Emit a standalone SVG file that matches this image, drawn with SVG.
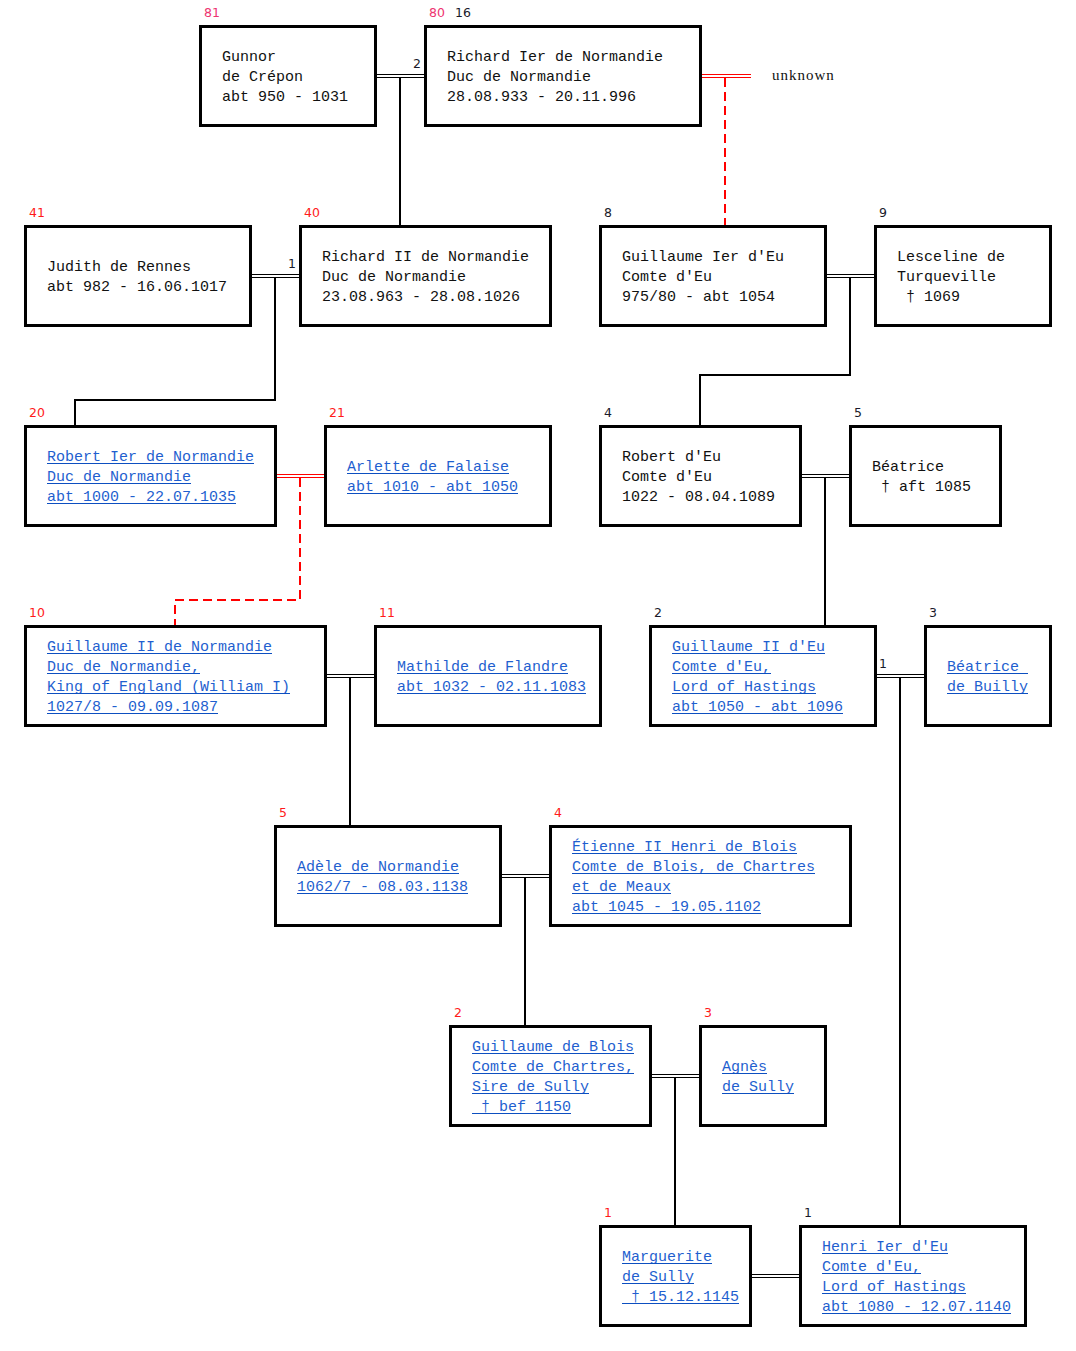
<svg xmlns="http://www.w3.org/2000/svg" width="1076" height="1351" viewBox="0 0 1076 1351">
<style>
.box{fill:#fff;stroke:#000;stroke-width:3}
.t{font-family:"Liberation Mono","Courier New",monospace;font-size:15px;fill:#111;white-space:pre}
.l{fill:#1f5fcf}
.u{stroke:#0d4fc0;stroke-width:1}
.n{font-family:"DejaVu Sans",Verdana,sans-serif;font-size:12.5px}
.nr{fill:#ff1a1a}
.np{fill:#ee3370}
.nk{fill:#1a1a2a}
.c{fill:none;stroke:#000;stroke-width:2}
.m{fill:none;stroke:#000;stroke-width:1}
.mr{fill:none;stroke:#ff0000;stroke-width:1}
.d{fill:none;stroke:#ff0000;stroke-width:2;stroke-dasharray:9 5}
.unk{font-family:"Liberation Serif","Times New Roman",serif;font-size:15px;letter-spacing:1px;fill:#111}
</style>
<rect width="1076" height="1351" fill="#fff"/>
<g id="connectors">
  <path class="m" d="M376 74.5H425M376 77.5H425"/>
  <path class="c" d="M400 78V225"/>
  <text class="n nk" x="413" y="68">2</text>
  <path class="mr" d="M701 74.5H751M701 77.5H751"/>
  <path class="d" d="M725 78V225"/>
  <text class="unk" x="772" y="80">unknown</text>
  <path class="m" d="M251 274.5H300M251 277.5H300"/>
  <path class="c" d="M275 278V400H75V425"/>
  <text class="n nk" x="288" y="268">1</text>
  <path class="m" d="M826 274.5H875M826 277.5H875"/>
  <path class="c" d="M850 278V375H700V425"/>
  <path class="mr" d="M276 474.5H325M276 477.5H325"/>
  <path class="d" d="M300 478V600H175V625"/>
  <path class="m" d="M801 474.5H850M801 477.5H850"/>
  <path class="c" d="M825 478V625"/>
  <path class="m" d="M326 674.5H375M326 677.5H375"/>
  <path class="c" d="M350 678V825"/>
  <path class="m" d="M876 674.5H925M876 677.5H925"/>
  <path class="c" d="M900 678V1225"/>
  <text class="n nk" x="879" y="668">1</text>
  <path class="m" d="M501 874.5H550M501 877.5H550"/>
  <path class="c" d="M525 878V1025"/>
  <path class="m" d="M651 1074.5H700M651 1077.5H700"/>
  <path class="c" d="M675 1078V1225"/>
  <path class="m" d="M751 1274.5H800M751 1277.5H800"/>
</g>

<g id="gunnor">
  <text class="n np" x="204" y="17">81</text>
  <rect class="box" x="200.5" y="26.5" width="175" height="99"/>
  <text class="t" x="222" y="60.5">Gunnor</text>
  <text class="t" x="222" y="80.5">de Crépon</text>
  <text class="t" x="222" y="100.5">abt 950 - 1031</text>
</g>
<g id="richard1">
  <text class="n np" x="429" y="17">80</text>
  <text class="n nk" x="455" y="17">16</text>
  <rect class="box" x="425.5" y="26.5" width="275" height="99"/>
  <text class="t" x="447" y="60.5">Richard Ier de Normandie</text>
  <text class="t" x="447" y="80.5">Duc de Normandie</text>
  <text class="t" x="447" y="100.5">28.08.933 - 20.11.996</text>
</g>

<g id="judith">
  <text class="n nr" x="29" y="217">41</text>
  <rect class="box" x="25.5" y="226.5" width="225" height="99"/>
  <text class="t" x="47" y="270.5">Judith de Rennes</text>
  <text class="t" x="47" y="290.5">abt 982 - 16.06.1017</text>
</g>
<g id="richard2">
  <text class="n nr" x="304" y="217">40</text>
  <rect class="box" x="300.5" y="226.5" width="250" height="99"/>
  <text class="t" x="322" y="260.5">Richard II de Normandie</text>
  <text class="t" x="322" y="280.5">Duc de Normandie</text>
  <text class="t" x="322" y="300.5">23.08.963 - 28.08.1026</text>
</g>
<g id="guillaume1eu">
  <text class="n nk" x="604" y="217">8</text>
  <rect class="box" x="600.5" y="226.5" width="225" height="99"/>
  <text class="t" x="622" y="260.5">Guillaume Ier d'Eu</text>
  <text class="t" x="622" y="280.5">Comte d'Eu</text>
  <text class="t" x="622" y="300.5">975/80 - abt 1054</text>
</g>
<g id="lesceline">
  <text class="n nk" x="879" y="217">9</text>
  <rect class="box" x="875.5" y="226.5" width="175" height="99"/>
  <text class="t" x="897" y="260.5">Lesceline de</text>
  <text class="t" x="897" y="280.5">Turqueville</text>
  <text class="t" x="897" y="300.5"> † 1069</text>
</g>

<g id="robert1">
  <text class="n nr" x="29" y="417">20</text>
  <rect class="box" x="25.5" y="426.5" width="250" height="99"/>
  <text class="t l" x="47" y="460.5">Robert Ier de Normandie</text>
  <text class="t l" x="47" y="480.5">Duc de Normandie</text>
  <text class="t l" x="47" y="500.5">abt 1000 - 22.07.1035</text>
  <path class="u" d="M47 463.5h207M47 483.5h144M47 503.5h189"/>
</g>
<g id="arlette">
  <text class="n nr" x="329" y="417">21</text>
  <rect class="box" x="325.5" y="426.5" width="225" height="99"/>
  <text class="t l" x="347" y="470.5">Arlette de Falaise</text>
  <text class="t l" x="347" y="490.5">abt 1010 - abt 1050</text>
  <path class="u" d="M347 473.5h162M347 493.5h171"/>
</g>
<g id="roberteu">
  <text class="n nk" x="604" y="417">4</text>
  <rect class="box" x="600.5" y="426.5" width="200" height="99"/>
  <text class="t" x="622" y="460.5">Robert d'Eu</text>
  <text class="t" x="622" y="480.5">Comte d'Eu</text>
  <text class="t" x="622" y="500.5">1022 - 08.04.1089</text>
</g>
<g id="beatrice">
  <text class="n nk" x="854" y="417">5</text>
  <rect class="box" x="850.5" y="426.5" width="150" height="99"/>
  <text class="t" x="872" y="470.5">Béatrice</text>
  <text class="t" x="872" y="490.5"> † aft 1085</text>
</g>

<g id="guillaume2n">
  <text class="n nr" x="29" y="617">10</text>
  <rect class="box" x="25.5" y="626.5" width="300" height="99"/>
  <text class="t l" x="47" y="650.5">Guillaume II de Normandie</text>
  <text class="t l" x="47" y="670.5">Duc de Normandie,</text>
  <text class="t l" x="47" y="690.5">King of England (William I)</text>
  <text class="t l" x="47" y="710.5">1027/8 - 09.09.1087</text>
  <path class="u" d="M47 653.5h225M47 673.5h153M47 693.5h243M47 713.5h171"/>
</g>
<g id="mathilde">
  <text class="n nr" x="379" y="617">11</text>
  <rect class="box" x="375.5" y="626.5" width="225" height="99"/>
  <text class="t l" x="397" y="670.5">Mathilde de Flandre</text>
  <text class="t l" x="397" y="690.5">abt 1032 - 02.11.1083</text>
  <path class="u" d="M397 673.5h171M397 693.5h189"/>
</g>
<g id="guillaume2eu">
  <text class="n nk" x="654" y="617">2</text>
  <rect class="box" x="650.5" y="626.5" width="225" height="99"/>
  <text class="t l" x="672" y="650.5">Guillaume II d'Eu</text>
  <text class="t l" x="672" y="670.5">Comte d'Eu,</text>
  <text class="t l" x="672" y="690.5">Lord of Hastings</text>
  <text class="t l" x="672" y="710.5">abt 1050 - abt 1096</text>
  <path class="u" d="M672 653.5h153M672 673.5h99M672 693.5h144M672 713.5h171"/>
</g>
<g id="beatricebuilly">
  <text class="n nk" x="929" y="617">3</text>
  <rect class="box" x="925.5" y="626.5" width="125" height="99"/>
  <text class="t l" x="947" y="670.5">Béatrice </text>
  <text class="t l" x="947" y="690.5">de Builly</text>
  <path class="u" d="M947 673.5h81M947 693.5h81"/>
</g>

<g id="adele">
  <text class="n nr" x="279" y="817">5</text>
  <rect class="box" x="275.5" y="826.5" width="225" height="99"/>
  <text class="t l" x="297" y="870.5">Adèle de Normandie</text>
  <text class="t l" x="297" y="890.5">1062/7 - 08.03.1138</text>
  <path class="u" d="M297 873.5h162M297 893.5h171"/>
</g>
<g id="etienne">
  <text class="n nr" x="554" y="817">4</text>
  <rect class="box" x="550.5" y="826.5" width="300" height="99"/>
  <text class="t l" x="572" y="850.5">Étienne II Henri de Blois</text>
  <text class="t l" x="572" y="870.5">Comte de Blois, de Chartres</text>
  <text class="t l" x="572" y="890.5">et de Meaux</text>
  <text class="t l" x="572" y="910.5">abt 1045 - 19.05.1102</text>
  <path class="u" d="M572 853.5h225M572 873.5h243M572 893.5h99M572 913.5h189"/>
</g>

<g id="guillaumeblois">
  <text class="n nr" x="454" y="1017">2</text>
  <rect class="box" x="450.5" y="1026.5" width="200" height="99"/>
  <text class="t l" x="472" y="1050.5">Guillaume de Blois</text>
  <text class="t l" x="472" y="1070.5">Comte de Chartres,</text>
  <text class="t l" x="472" y="1090.5">Sire de Sully</text>
  <text class="t l" x="472" y="1110.5"> † bef 1150</text>
  <path class="u" d="M472 1053.5h162M472 1073.5h162M472 1093.5h117M472 1113.5h99"/>
</g>
<g id="agnes">
  <text class="n nr" x="704" y="1017">3</text>
  <rect class="box" x="700.5" y="1026.5" width="125" height="99"/>
  <text class="t l" x="722" y="1070.5">Agnès</text>
  <text class="t l" x="722" y="1090.5">de Sully</text>
  <path class="u" d="M722 1073.5h45M722 1093.5h72"/>
</g>

<g id="marguerite">
  <text class="n nr" x="604" y="1217">1</text>
  <rect class="box" x="600.5" y="1226.5" width="150" height="99"/>
  <text class="t l" x="622" y="1260.5">Marguerite</text>
  <text class="t l" x="622" y="1280.5">de Sully</text>
  <text class="t l" x="622" y="1300.5"> † 15.12.1145</text>
  <path class="u" d="M622 1263.5h90M622 1283.5h72M622 1303.5h117"/>
</g>
<g id="henri">
  <text class="n nk" x="804" y="1217">1</text>
  <rect class="box" x="800.5" y="1226.5" width="225" height="99"/>
  <text class="t l" x="822" y="1250.5">Henri Ier d'Eu</text>
  <text class="t l" x="822" y="1270.5">Comte d'Eu,</text>
  <text class="t l" x="822" y="1290.5">Lord of Hastings</text>
  <text class="t l" x="822" y="1310.5">abt 1080 - 12.07.1140</text>
  <path class="u" d="M822 1253.5h126M822 1273.5h99M822 1293.5h144M822 1313.5h189"/>
</g>
</svg>
